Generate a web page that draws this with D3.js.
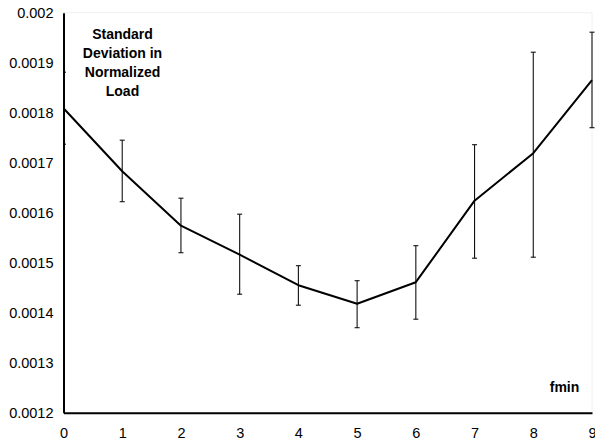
<!DOCTYPE html>
<html>
<head>
<meta charset="utf-8">
<script src="https://cdn.jsdelivr.net/npm/d3@7"></script>
<style>
  html, body { margin: 0; padding: 0; background: #fff; overflow: hidden; }
  svg { display: block; font-family: "Liberation Sans", Arial, Helvetica, sans-serif; }
</style>
</head>
<body>
<svg id="chart" width="595" height="445"></svg>
<script>
// fmin settings along the x axis
const fmin = [0, 1, 2, 3, 4, 5, 6, 7, 8, 9];
// mean standard deviation of normalized load per fmin
const meanStd = [0.001809, 0.001683, 0.001574, 0.001516, 0.001455, 0.001418, 0.001461, 0.001624, 0.001719, 0.001865];
// upper and lower ends of the error bars
const errHigh = [null, 0.001745, 0.001629, 0.001597, 0.001494, 0.001464, 0.001534, 0.001736, 0.001921, 0.001961];
const errLow  = [null, 0.001622, 0.001520, 0.001437, 0.001415, 0.001370, 0.001387, 0.001509, 0.001511, 0.001770];
// y axis tick labels
const yTicks = [0.0012, 0.0013, 0.0014, 0.0015, 0.0016, 0.0017, 0.0018, 0.0019, 0.002];
const yTickLabels = ["0.0012", "0.0013", "0.0014", "0.0015", "0.0016", "0.0017", "0.0018", "0.0019", "0.002"];
// small stray tick marks on the value axis
const minorTicks = [0.001881, 0.001737];
const titleLines = ["Standard", "Deviation in", "Normalized", "Load"];
const xTitle = "fmin";

const svg = d3.select("#chart");
const x = d3.scaleLinear().domain([0, 9]).range([63.5, 592]);
const y = d3.scaleLinear().domain([0.0012, 0.002]).range([412.7, 12.7]);

// faint plot frame
svg.append("path")
  .attr("d", `M${x(0)},${y(0.002)}H${x(9)}V${y(0.0012)}`)
  .attr("fill", "none").attr("stroke", "#f0f0f0").attr("stroke-width", 1);

// y axis: line, labels and a couple of tiny ticks
const yAxis = d3.axisLeft(y).tickValues(yTicks)
  .tickFormat((d, i) => yTickLabels[i]).tickSize(0).tickPadding(10);
const gy = svg.append("g").attr("transform", `translate(${x(0)},0)`).call(yAxis);
gy.select(".domain").attr("stroke", "#000").attr("stroke-width", 2);
gy.selectAll("text").attr("font-size", 14.5).attr("fill", "#000")
  .attr("font-family", "Liberation Sans, Arial, sans-serif");
svg.append("g").selectAll("line").data(minorTicks).join("line")
  .attr("x1", x(0)).attr("x2", x(0) + 2.5)
  .attr("y1", d => y(d)).attr("y2", d => y(d))
  .attr("stroke", "#000").attr("stroke-width", 1);

// x axis
const xAxis = d3.axisBottom(x).tickValues(fmin).tickFormat(d3.format("d"))
  .tickSize(0).tickPadding(15);
const gx = svg.append("g").attr("transform", `translate(0,${y(0.0012)})`).call(xAxis);
gx.select(".domain").attr("stroke", "#000").attr("stroke-width", 2);
gx.selectAll("text").attr("font-size", 14.5).attr("fill", "#000")
  .attr("font-family", "Liberation Sans, Arial, sans-serif");

// error bars
const bars = fmin.map((f, i) => ({ f, hi: errHigh[i], lo: errLow[i] })).filter(d => d.hi != null);
const eb = svg.append("g").attr("stroke", "#111").attr("stroke-width", 1.1);
eb.selectAll("line.v").data(bars).join("line").attr("class", "v")
  .attr("x1", d => x(d.f)).attr("x2", d => x(d.f))
  .attr("y1", d => y(d.hi)).attr("y2", d => y(d.lo));
eb.selectAll("line.t").data(bars).join("line").attr("class", "t")
  .attr("x1", d => x(d.f) - 2.5).attr("x2", d => x(d.f) + 2.5)
  .attr("y1", d => y(d.hi)).attr("y2", d => y(d.hi));
eb.selectAll("line.b").data(bars).join("line").attr("class", "b")
  .attr("x1", d => x(d.f) - 2.5).attr("x2", d => x(d.f) + 2.5)
  .attr("y1", d => y(d.lo)).attr("y2", d => y(d.lo));

// mean line
const line = d3.line().x((d, i) => x(fmin[i])).y(d => y(d));
svg.append("path").datum(meanStd).attr("d", line)
  .attr("fill", "none").attr("stroke", "#000").attr("stroke-width", 2)
  .attr("stroke-linejoin", "round");

// axis titles
svg.append("text").attr("x", 122.5).attr("y", 39.3)
  .attr("text-anchor", "middle").attr("font-weight", "bold").attr("font-size", 14)
  .selectAll("tspan").data(titleLines).join("tspan")
  .attr("x", 122.5).attr("dy", (d, i) => i === 0 ? 0 : 18.9).text(d => d);
svg.append("text").attr("x", 564.5).attr("y", 391.7)
  .attr("text-anchor", "middle").attr("font-weight", "bold").attr("font-size", 14)
  .text(xTitle);
</script>
</body>
</html>
